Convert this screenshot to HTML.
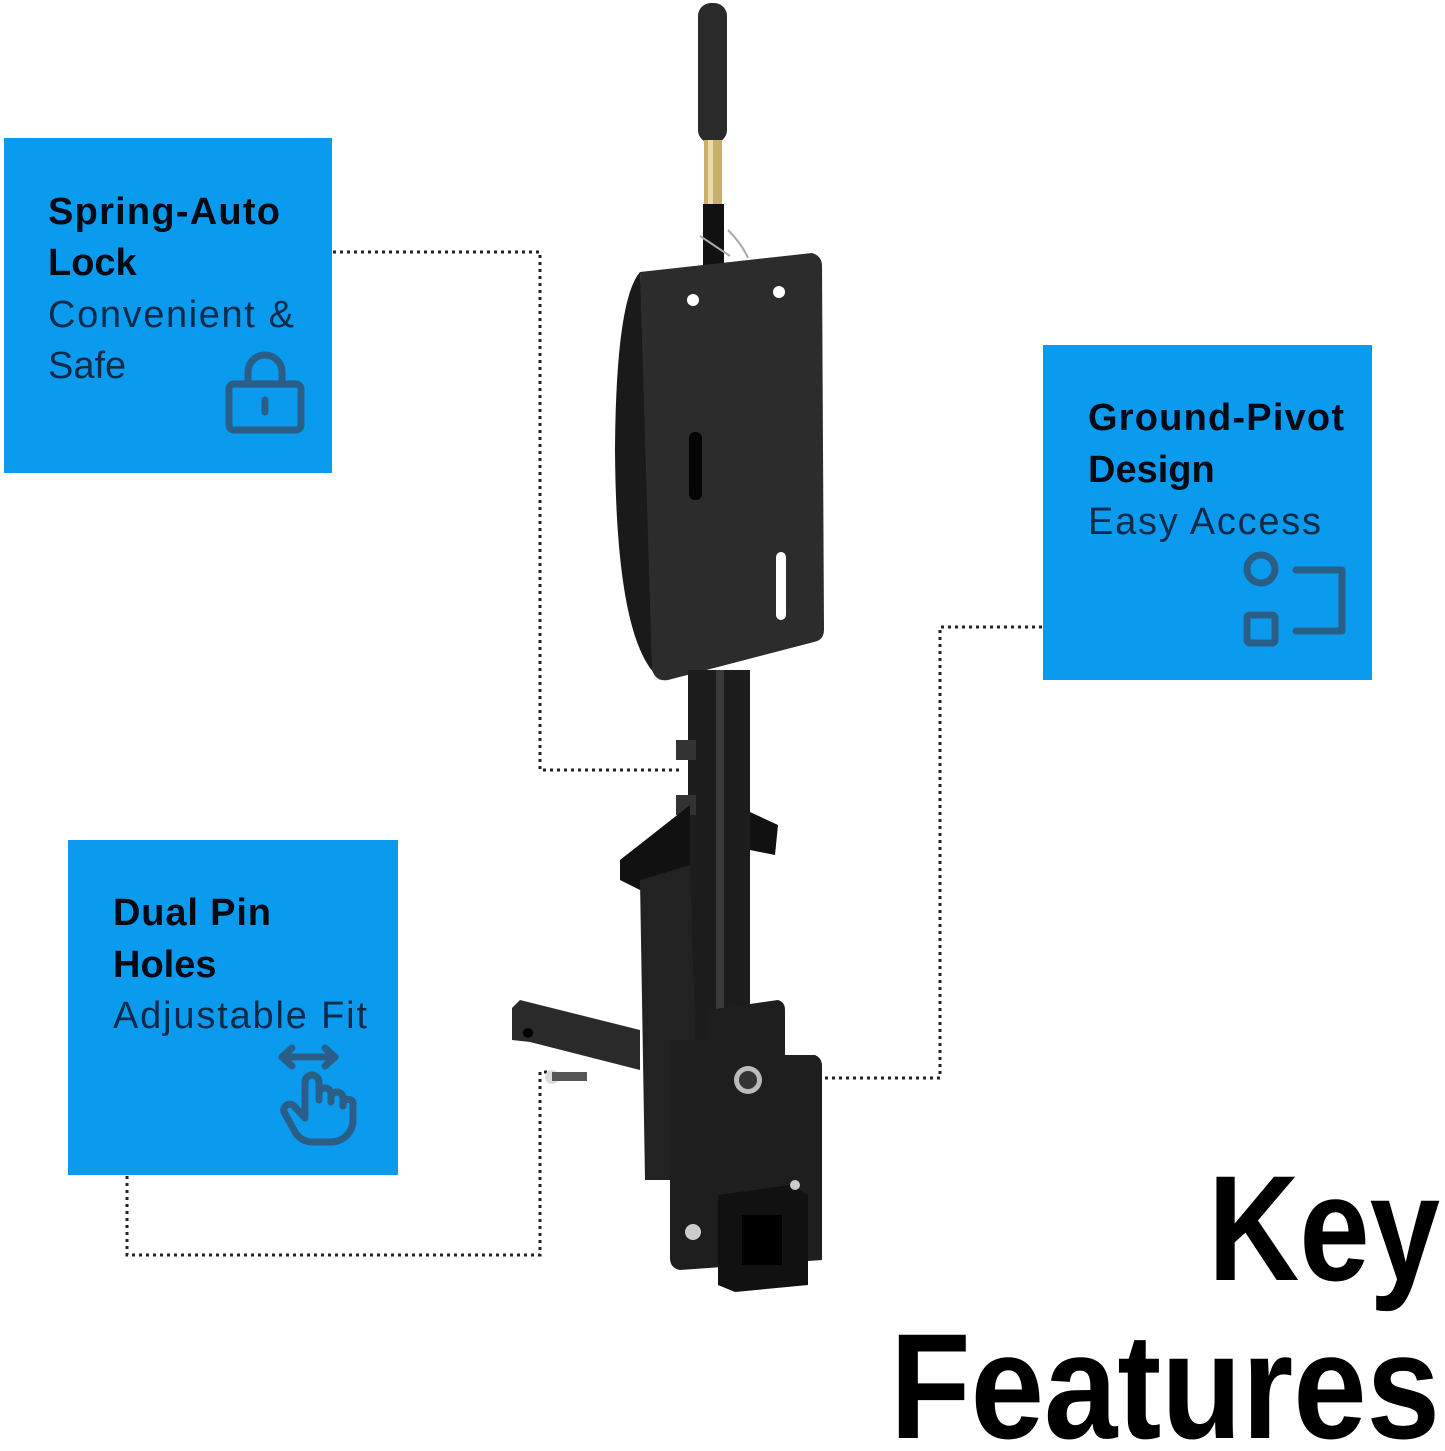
<!DOCTYPE html>
<html><head><meta charset="utf-8"><style>
html,body{margin:0;padding:0;background:#fff;}
svg{display:block}
text{font-family:"Liberation Sans",Arial,sans-serif}
</style></head><body>
<svg width="1445" height="1451" viewBox="0 0 1445 1451" xmlns="http://www.w3.org/2000/svg">
<rect width="1445" height="1451" fill="#fff"/>
<!-- dotted connectors -->
<g fill="none" stroke="#222" stroke-width="3" stroke-dasharray="3 4">
<polyline points="333,252 540,252 540,770 680,770"/>
<polyline points="1042,627 940,627 940,1078 785,1078"/>
<polyline points="127,1176 127,1255 540,1255 540,1072 550,1072"/>
</g>
<!-- boxes -->
<rect x="4" y="138" width="328" height="335" fill="#0a9bef"/>
<rect x="1043" y="345" width="329" height="335" fill="#0a9bef"/>
<rect x="68" y="840" width="330" height="335" fill="#0a9bef"/>
<g font-weight="bold" font-size="38" fill="#050a14">
<text x="48" y="224" textLength="232">Spring-Auto</text>
<text x="48" y="275">Lock</text>
<text x="1088" y="430" textLength="256">Ground-Pivot</text>
<text x="1088" y="482">Design</text>
<text x="113" y="925" textLength="158">Dual Pin</text>
<text x="113" y="977">Holes</text>
</g>
<g font-size="38" fill="#0f2a48">
<text x="48" y="327" textLength="246">Convenient &amp;</text>
<text x="48" y="378">Safe</text>
<text x="1088" y="534" textLength="233">Easy Access</text>
<text x="113" y="1028" textLength="254">Adjustable Fit</text>
</g>
<!-- icons -->
<g fill="none" stroke="#2a5e86" stroke-width="7" stroke-linecap="round" stroke-linejoin="round">
<path d="M248,383 V372 a17,17 0 0 1 34,0 V383"/>
<rect x="229" y="384" width="72" height="46" rx="5"/>
<line x1="265" y1="400" x2="265" y2="412"/>
<circle cx="1261" cy="569" r="14"/>
<rect x="1247" y="615" width="28" height="28" rx="3"/>
<path d="M1296,570 H1342 V631 H1296"/>
<line x1="282" y1="1057" x2="335" y2="1057"/>
<path d="M292,1048 l-10,9 l10,9 M325,1048 l10,9 l-10,9"/>
<path d="M305,1115 V1082 a7,7 0 0 1 14,0 V1100 M319,1094 a6,6 0 0 1 12,0 V1102 M331,1098 a6,6 0 0 1 12,0 V1106 M343,1102 a6,6 0 0 1 10,0 V1120 a22,22 0 0 1 -22,22 H312 a20,20 0 0 1 -18,-12 l-10,-18 a6,6 0 0 1 10,-6 l11,12"/>
</g>
<!-- product -->
<g>
<rect x="698" y="3" width="29" height="140" rx="13" fill="#2a2a2a"/>
<rect x="704" y="140" width="18" height="66" fill="#c8b06a"/>
<rect x="708" y="140" width="5" height="66" fill="#e8dcaa"/>
<rect x="703" y="204" width="21" height="62" fill="#111"/>
<path d="M700,236 q18,12 30,20 M728,230 q14,14 20,28" stroke="#aaa" stroke-width="2" fill="none"/>
<path d="M640,272 Q616,300 615,450 Q616,620 650,668 L660,680 L640,272Z" fill="#1a1a1a"/>
<path d="M640,272 L812,253 Q822,256 822,266 L824,630 Q824,640 814,642 L668,680 Q656,682 652,670 L640,272Z" fill="#2c2c2c"/>
<circle cx="693" cy="300" r="6" fill="#fff"/>
<circle cx="779" cy="292" r="6" fill="#fff"/>
<rect x="689" y="432" width="13" height="68" rx="6" fill="#050505"/>
<rect x="776" y="552" width="10" height="68" rx="5" fill="#fff"/>
<rect x="688" y="670" width="62" height="500" fill="#1c1c1c"/>
<rect x="716" y="670" width="8" height="500" fill="#3a3a3a"/>
<path d="M676,740 h20 v20 h-20z M676,795 h20 v20 h-20z" fill="#333"/>
<path d="M620,860 L690,805 L690,870 L640,890 L620,880Z" fill="#111"/>
<path d="M750,812 L778,825 L775,855 L750,850Z" fill="#111"/>
<path d="M640,880 L690,865 L700,1180 L645,1180Z" fill="#222"/>
<path d="M512,1008 L520,1000 L640,1030 L640,1070 L530,1042 L512,1040Z" fill="#2a2a2a"/>
<circle cx="528" cy="1033" r="5" fill="#000"/>
<circle cx="552" cy="1077" r="7" fill="#ddd"/>
<rect x="552" y="1072" width="35" height="9" fill="#555"/>
<path d="M670,1040 L708,1040 L708,1010 L778,1000 Q785,1002 785,1010 L785,1055 L815,1055 Q822,1058 822,1066 L822,1260 L680,1270 Q670,1268 670,1258Z" fill="#1e1e1e"/>
<circle cx="748" cy="1080" r="14" fill="#bbb"/>
<circle cx="748" cy="1080" r="9" fill="#333"/>
<path d="M718,1195 L790,1185 L808,1195 L808,1285 L735,1292 L718,1285Z" fill="#111"/>
<rect x="742" y="1215" width="40" height="50" fill="#000"/>
<circle cx="693" cy="1232" r="8" fill="#ccc"/>
<circle cx="795" cy="1185" r="5" fill="#ccc"/>
</g>
<!-- Key Features -->
<g font-weight="bold" fill="#000">
<text x="1208" y="1280" font-size="150" textLength="232" lengthAdjust="spacingAndGlyphs">Key</text>
<text x="890" y="1438" font-size="150" textLength="550" lengthAdjust="spacingAndGlyphs">Features</text>
</g>
</svg>
</body></html>
